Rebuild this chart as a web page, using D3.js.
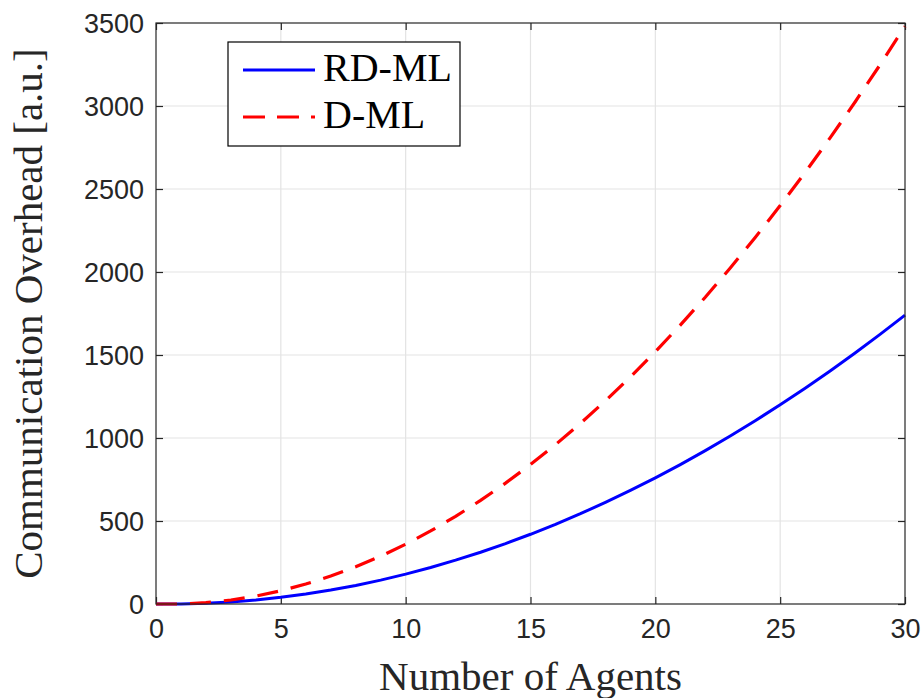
<!DOCTYPE html>
<html>
<head>
<meta charset="utf-8">
<script src="https://cdn.jsdelivr.net/npm/d3@7"></script>
<style>
  html, body { margin: 0; padding: 0; background: #fff; }
  svg { display: block; }
  .tick text { font-family: "Liberation Sans", Arial, sans-serif; font-size: 27px; fill: #262626; }
</style>
</head>
<body>
<svg id="chart" width="924" height="698"></svg>
<script>
// Number of agents on the x axis
const agents = [0, 1, 2, 3, 4, 5, 6, 7, 8, 9, 10, 11, 12, 13, 14, 15,
                16, 17, 18, 19, 20, 21, 22, 23, 24, 25, 26, 27, 28, 29, 30];
// Communication overhead, RD-ML
const rdml = [0, 0, 4, 12, 24, 40, 60, 84, 112, 144, 180, 220, 264, 312, 364, 420,
              480, 544, 612, 684, 760, 840, 924, 1012, 1104, 1200, 1300, 1404, 1512, 1624, 1740];
// Communication overhead, D-ML
const dml = [0, 0, 8, 24, 48, 80, 120, 168, 224, 288, 360, 440, 528, 624, 728, 840,
             960, 1088, 1224, 1368, 1520, 1680, 1848, 2024, 2208, 2400, 2600, 2808, 3024, 3248, 3480];
const xTicks = [0, 5, 10, 15, 20, 25, 30];
const yTicks = [0, 500, 1000, 1500, 2000, 2500, 3000, 3500];
const seriesNames = ["RD-ML", "D-ML"];
const xLabel = "Number of Agents";
const yLabel = "Communication Overhead [a.u.]";

const svg = d3.select("#chart");
const plot = { left: 156, right: 905, top: 23, bottom: 604 };
const serif = '"Liberation Serif", "Times New Roman", serif';
const fmt = d3.format("d");

const x = d3.scaleLinear().domain([0, 30]).range([plot.left, plot.right]);
const y = d3.scaleLinear().domain([0, 3500]).range([plot.bottom, plot.top]);

// grid
const grid = svg.append("g").attr("stroke", "#e3e3e3").attr("stroke-width", 1.2);
grid.selectAll(".gx").data(xTicks.slice(1, -1)).join("line")
  .attr("x1", d => x(d)).attr("x2", d => x(d))
  .attr("y1", plot.top).attr("y2", plot.bottom);
grid.selectAll(".gy").data(yTicks.slice(1, -1)).join("line")
  .attr("x1", plot.left).attr("x2", plot.right)
  .attr("y1", d => y(d)).attr("y2", d => y(d));

// axes with inward ticks on all four sides
const tickLen = 7;
function styleAxis(g) {
  g.select(".domain").remove();
  g.selectAll(".tick line").attr("stroke", "#262626").attr("stroke-width", 1.2);
}
svg.append("g").attr("transform", `translate(0,${plot.bottom})`)
  .call(d3.axisBottom(x).tickValues(xTicks).tickFormat(fmt).tickSizeInner(-tickLen).tickSizeOuter(0).tickPadding(0))
  .call(styleAxis)
  .call(g => g.selectAll(".tick text").attr("y", 34).attr("dy", null));
svg.append("g").attr("transform", `translate(0,${plot.top})`)
  .call(d3.axisTop(x).tickValues(xTicks).tickSizeInner(-tickLen).tickSizeOuter(0).tickFormat(""))
  .call(styleAxis);
svg.append("g").attr("transform", `translate(${plot.left},0)`)
  .call(d3.axisLeft(y).tickValues(yTicks).tickFormat(fmt).tickSizeInner(-tickLen).tickSizeOuter(0).tickPadding(0))
  .call(styleAxis)
  .call(g => g.selectAll(".tick text").attr("x", -12).attr("dy", "0.36em"));
svg.append("g").attr("transform", `translate(${plot.right},0)`)
  .call(d3.axisRight(y).tickValues(yTicks).tickSizeInner(-tickLen).tickSizeOuter(0).tickFormat(""))
  .call(styleAxis);

// series
const line = d3.line().x((d, i) => x(agents[i])).y(d => y(d));
svg.append("path").datum(rdml).attr("d", line)
  .attr("fill", "none").attr("stroke", "#0000ff").attr("stroke-width", 3);
svg.append("path").datum(dml).attr("d", line)
  .attr("fill", "none").attr("stroke", "#ff0000").attr("stroke-width", 3.2)
  .attr("stroke-dasharray", "21,13");

// plot box
svg.append("rect")
  .attr("x", plot.left).attr("y", plot.top)
  .attr("width", plot.right - plot.left).attr("height", plot.bottom - plot.top)
  .attr("fill", "none").attr("stroke", "#262626").attr("stroke-width", 1.2);

// axis labels
svg.append("text")
  .attr("x", (plot.left + plot.right) / 2).attr("y", 690)
  .attr("text-anchor", "middle")
  .attr("font-family", serif).attr("font-size", 41).attr("fill", "#262626")
  .text(xLabel);
svg.append("text")
  .attr("transform", `translate(42,${(plot.top + plot.bottom) / 2}) rotate(-90)`)
  .attr("text-anchor", "middle")
  .attr("font-family", serif).attr("font-size", 41).attr("fill", "#262626")
  .text(yLabel);

// legend
const legend = svg.append("g");
legend.append("rect")
  .attr("x", 228).attr("y", 42).attr("width", 232).attr("height", 104)
  .attr("fill", "#fff").attr("stroke", "#000").attr("stroke-width", 1.2);
const legendRows = [
  { name: seriesNames[0], color: "#0000ff", dash: null, cy: 70 },
  { name: seriesNames[1], color: "#ff0000", dash: "22,12", cy: 117 }
];
legendRows.forEach(r => {
  legend.append("line")
    .attr("x1", 243).attr("x2", 315).attr("y1", r.cy).attr("y2", r.cy)
    .attr("stroke", r.color).attr("stroke-width", 3)
    .attr("stroke-dasharray", r.dash);
  legend.append("text")
    .attr("x", 323).attr("y", r.cy + 11)
    .attr("font-family", serif).attr("font-size", 40).attr("fill", "#000")
    .text(r.name);
});
</script>
</body>
</html>
